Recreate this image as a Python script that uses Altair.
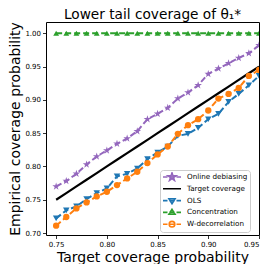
import altair as alt
import pandas as pd
import math

# ---- data ----
x_vals = [0.75, 0.76, 0.77, 0.78, 0.79, 0.80, 0.81, 0.82, 0.83, 0.84, 0.85,
          0.86, 0.87, 0.88, 0.89, 0.90, 0.91, 0.92, 0.93, 0.94, 0.95]
online = [0.770, 0.778, 0.789, 0.803, 0.815, 0.824, 0.834, 0.842, 0.853, 0.871, 0.879,
          0.888, 0.902, 0.911, 0.922, 0.939, 0.947, 0.955, 0.963, 0.970, 0.982]
target = [0.75, 0.76, 0.77, 0.78, 0.79, 0.80, 0.81, 0.82, 0.83, 0.84, 0.85,
          0.86, 0.87, 0.88, 0.89, 0.90, 0.91, 0.92, 0.93, 0.94, 0.95]
ols = [0.722, 0.734, 0.740, 0.751, 0.760, 0.767, 0.785, 0.789, 0.797, 0.811, 0.821,
       0.830, 0.846, 0.849, 0.858, 0.871, 0.879, 0.897, 0.909, 0.922, 0.936]
conc = [1.0, 1.0, 1.0, 1.0, 1.0, 1.0, 1.0, 1.0, 1.0, 1.0, 1.0,
        1.0, 1.0, 1.0, 1.0, 1.0, 1.0, 1.0, 1.0, 1.0, 1.0]
wdec = [0.711, 0.724, 0.737, 0.746, 0.755, 0.762, 0.772, 0.782, 0.792, 0.805, 0.818,
        0.830, 0.849, 0.862, 0.871, 0.884, 0.902, 0.909, 0.918, 0.936, 0.945]

series_names = ["Online debiasing", "Target coverage", "OLS", "Concentration", "W-decorrelation"]
series_vals = [online, target, ols, conc, wdec]
colors = ["#9467bd", "#000000", "#1f77b4", "#2ca02c", "#ff7f0e"]
x_ticks = [0.75, 0.80, 0.85, 0.90, 0.95]
y_ticks = [0.70, 0.75, 0.80, 0.85, 0.90, 0.95, 1.00]

rows = []
for name, vals in zip(series_names, series_vals):
    for xv, yv in zip(x_vals, vals):
        rows.append({"x": xv, "y": yv, "series": name})
df = pd.DataFrame(rows)

FONT = "DejaVu Sans"

# ---- marker shapes ----
def star_pts(r_out=1.0, r_in=0.382):
    pts = []
    for k in range(10):
        ang = math.radians(-90 + 36 * k)
        r = r_out if k % 2 == 0 else r_in
        pts.append((r * math.cos(ang), r * math.sin(ang)))
    return pts

def poly_path(pts, scale=1.0):
    return "M" + "L".join(f"{px * scale:.3f},{py * scale:.3f}" for px, py in pts) + "Z"

def circle_path(r):
    return f"M{r},0A{r},{r} 0 1,1 {-r},0A{r},{r} 0 1,1 {r},0Z"

STAR = poly_path(star_pts())
TRI_DOWN = [(-1.0, -0.6), (1.0, -0.6), (0.0, 1.0)]
TRI_UP = [(0.0, -1.0), (1.0, 0.6), (-1.0, 0.6)]

# legend handles (fit in the [-1, 1] box): dashed line with marker in the middle
DASHES = "M-1,0L-0.5,0M-0.3,0L0.3,0M0.5,0L1,0"
legend_paths = [
    DASHES + poly_path(star_pts(), 0.46),
    "M-1,0L1,0",
    DASHES + poly_path(TRI_DOWN, 0.34),
    DASHES + poly_path(TRI_UP, 0.34),
    DASHES + circle_path(0.31),
]

plot_shapes = {
    "Online debiasing": (STAR, 64),
    "OLS": ("triangle-down", 42),
    "Concentration": ("triangle-up", 34),
    "W-decorrelation": ("circle", 40),
}

xs = alt.Scale(domain=[0.74, 0.95], nice=False, zero=False)
ys = alt.Scale(domain=[0.697, 1.017], nice=False, zero=False)
X = alt.X("x:Q", scale=xs,
          axis=alt.Axis(values=x_ticks, format=".2f", title="Target coverage probability"))
Y = alt.Y("y:Q", scale=ys,
          axis=alt.Axis(values=y_ticks, format=".2f", title="Empirical coverage probability"))

layers = []
for name, col in zip(series_names, colors):
    sub = alt.Chart(df).transform_filter(alt.datum.series == name)
    if name == "Target coverage":
        layers.append(sub.mark_line(color=col, strokeWidth=2.2, clip=True).encode(x=X, y=Y))
    else:
        layers.append(sub.mark_line(color=col, strokeWidth=2, strokeDash=[6, 3], clip=True)
                      .encode(x=X, y=Y))
        shp, sz = plot_shapes[name]
        layers.append(sub.mark_point(shape=shp, size=sz, filled=True, color=col,
                                     opacity=1, clip=True).encode(x=X, y=Y))

legend_df = pd.DataFrame({"series": series_names})
leg = alt.Legend(orient="none", legendX=114, legendY=148, title=None,
                 symbolSize=324, symbolStrokeWidth=1.6, clipHeight=10,
                 labelFont=FONT, labelFontSize=7.2, labelColor="#000000", labelLimit=200,
                 labelOffset=5, rowPadding=1.8, padding=2,
                 strokeColor="#cccccc", fillColor="#ffffff", cornerRadius=3)
legend_layer = alt.Chart(legend_df).mark_point(filled=True, opacity=0).encode(
    shape=alt.Shape("series:N", scale=alt.Scale(domain=series_names, range=legend_paths),
                    sort=series_names, legend=leg),
    fill=alt.Fill("series:N", scale=alt.Scale(domain=series_names, range=colors),
                  sort=series_names, legend=leg),
    stroke=alt.Stroke("series:N", scale=alt.Scale(domain=series_names, range=colors),
                      sort=series_names, legend=leg),
)

chart = alt.layer(*layers, legend_layer).properties(
    width=213, height=213,
    autosize=alt.AutoSizeParams(type="none"),
    padding={"left": 38, "right": 7, "top": 14, "bottom": 29},
    title=alt.TitleParams("Lower tail coverage of θ₁*", font=FONT, fontSize=13.7,
                          fontWeight="normal", color="#000000", offset=0,
                          anchor="middle"),
).configure_view(
    stroke="#000000", strokeWidth=1
).configure_axis(
    grid=False, domain=False, ticks=True, tickSize=3.5, tickWidth=0.8, tickColor="#000000",
    labelFont=FONT, labelFontSize=7, labelColor="#000000", labelPadding=2,
    titleFont=FONT, titleFontSize=14, titleFontWeight="normal", titleColor="#000000",
).configure_axisX(titlePadding=3).configure_axisY(titlePadding=2)

chart.save("out.html", embed_options={"renderer": "svg", "actions": False})
